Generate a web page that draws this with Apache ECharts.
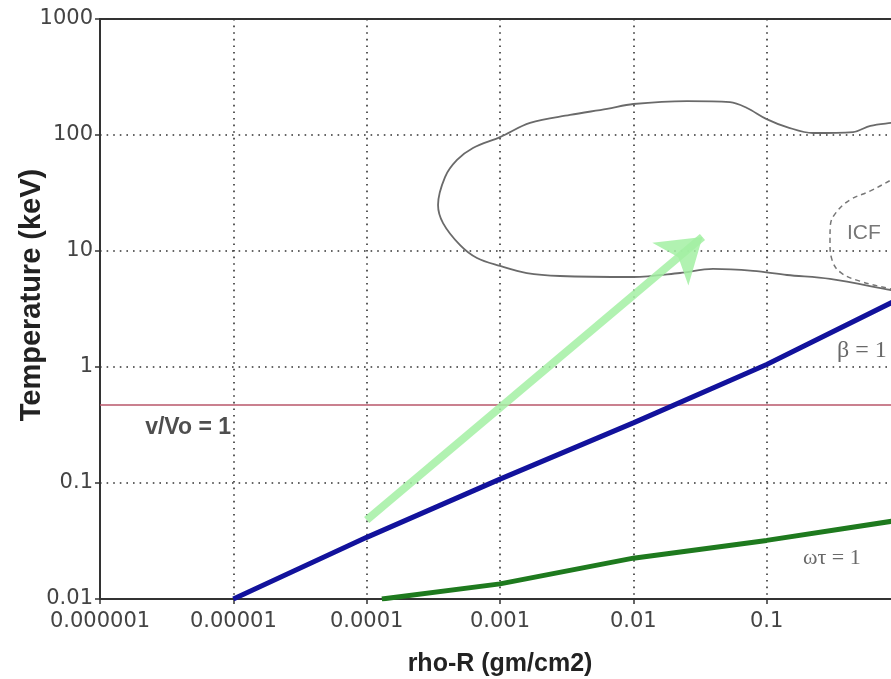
<!DOCTYPE html>
<html>
<head>
<meta charset="utf-8">
<script src="https://cdn.jsdelivr.net/npm/echarts@6/dist/echarts.min.js"></script>
<style>html,body{margin:0;padding:0;background:#fff}#c{width:891px;height:679px}</style>
</head>
<body>
<div id="c"></div>
<script>
// ---- data ----
const xTickLabels = ['0.000001', '0.00001', '0.0001', '0.001', '0.01', '0.1', ''];
const yTickLabels = ['0.01', '0.1', '1', '10', '100', '1000'];

const betaX = [1e-5, 1e-4, 1e-3, 0.01, 0.1, 1];
const betaY = [0.01, 0.034, 0.108, 0.33, 1.05, 3.9];

const omegaTauX = [1.3e-4, 1e-3, 0.01, 0.1, 1];
const omegaTauY = [0.01, 0.0135, 0.0225, 0.032, 0.048];

const vVoX = [1e-6, 1];
const vVoY = [0.47, 0.47];

const arrowX = [1e-4, 0.033];
const arrowY = [0.048, 13.2];

const loopX = [1.2, 0.856, 0.6, 0.444, 0.2226, 0.142, 0.1, 0.0712, 0.0531, 0.0253, 0.01, 6.35e-3, 3.35e-3, 1.68e-3, 1e-3, 6.27e-4, 4.76e-4, 3.87e-4, 3.43e-4, 3.74e-4, 5.0e-4, 6.72e-4, 1e-3, 1.59e-3, 2.82e-3, 0.01, 0.0224, 0.0396, 0.079, 0.142, 0.2985, 0.856, 1.2];
const loopY = [132, 127, 120, 106, 104, 117, 137, 171, 192, 196, 185, 168, 149, 127, 96, 77.3, 60.9, 43.4, 24.9, 17.4, 11.3, 8.7, 7.43, 6.46, 6.09, 5.97, 6.46, 7.0, 6.73, 6.21, 5.74, 4.61, 4.3];

const icfX = [1.1, 0.856, 0.6, 0.42, 0.33, 0.3, 0.2985, 0.31, 0.36, 0.5, 0.856, 1.1];
const icfY = [48, 40.9, 33, 27.5, 21.3, 16.5, 12.0, 8.3, 6.5, 5.5, 4.7, 4.4];

const annotations = [
  {text: 'v/Vo = 1', x: 2.18e-6, y: 0.298, kind: 'vvo'},
  {text: 'β = 1', x: 0.337, y: 1.37, kind: 'serif'},
  {text: 'ωτ = 1', x: 0.187, y: 0.0226, kind: 'serifSmall'},
  {text: 'ICF', x: 0.40, y: 14.3, kind: 'icf'}
];

// ---- build ----
const zip = (xs, ys) => xs.map((x, i) => [x, ys[i]]);
const dec = (v, base) => Math.round(Math.log10(v)) - base;

const labelStyles = {
  vvo: {fontFamily: 'Liberation Sans, Arial', fontWeight: 'bold', fontSize: 23, color: '#222'},
  serif: {fontFamily: 'Liberation Serif, Times New Roman', fontSize: 24, color: '#444'},
  serifSmall: {fontFamily: 'Liberation Serif, Times New Roman', fontSize: 22, color: '#444'},
  icf: {fontFamily: 'Liberation Sans, Arial', fontSize: 21, color: '#555'}
};

const chart = echarts.init(document.getElementById('c'), null, {renderer: 'canvas'});
const dotted = {color: '#333', width: 1.6, type: [1.6, 5]};
chart.setOption({
  animation: false,
  backgroundColor: '#fff',
  grid: {left: 100, right: -9, top: 19, bottom: 80, containLabel: false, outerBoundsMode: 'none',
    show: true, borderColor: '#333', borderWidth: 2, backgroundColor: 'transparent'},
  xAxis: {
    type: 'log', logBase: 10, min: 1e-6, max: 1,
    name: 'rho-R (gm/cm2)', nameLocation: 'middle', nameGap: 53, nameMoveOverlap: false,
    nameTextStyle: {fontFamily: 'Liberation Sans, Arial', fontWeight: 'bold', fontSize: 25, color: '#222'},
    axisLine: {show: true, lineStyle: {color: '#333', width: 2}},
    axisTick: {show: true, length: 5, lineStyle: {color: '#333', width: 1.5}},
    minorTick: {show: false},
    axisLabel: {margin: 12, fontFamily: 'DejaVu Sans', fontSize: 21, color: '#444', hideOverlap: false,
      formatter: v => xTickLabels[dec(v, -6)] ?? ''},
    splitLine: {show: true, lineStyle: dotted}
  },
  yAxis: {
    type: 'log', logBase: 10, min: 0.01, max: 1000,
    name: 'Temperature (keV)', nameLocation: 'middle', nameGap: 54, nameMoveOverlap: false,
    nameTextStyle: {fontFamily: 'Liberation Sans, Arial', fontWeight: 'bold', fontSize: 29, color: '#222',
      padding: [0, 0, 0, 28]},
    axisLine: {show: true, lineStyle: {color: '#333', width: 2}},
    axisTick: {show: true, length: 5, lineStyle: {color: '#333', width: 1.5}},
    minorTick: {show: false},
    axisLabel: {margin: 7, fontFamily: 'DejaVu Sans', fontSize: 21, color: '#444', hideOverlap: false,
      formatter: v => yTickLabels[dec(v, -2)] ?? ''},
    splitLine: {show: true, lineStyle: dotted}
  },
  series: [
    {type: 'line', name: 'v/Vo', data: zip(vVoX, vVoY), showSymbol: false, symbol: 'none',
      lineStyle: {color: '#b8566a', width: 1.6}, z: 3},
    {type: 'line', name: 'loop', data: zip(loopX, loopY), showSymbol: false, symbol: 'none', smooth: 0.35,
      lineStyle: {color: '#6a6a6a', width: 1.8}, z: 3},
    {type: 'line', name: 'ICF', data: zip(icfX, icfY), showSymbol: false, symbol: 'none', smooth: 0.4,
      lineStyle: {color: '#777', width: 1.5, type: [5, 4]}, z: 3},
    {type: 'lines', coordinateSystem: 'cartesian2d', name: 'arrow',
      data: [{coords: zip(arrowX, arrowY)}],
      symbol: ['none', 'arrow'], symbolSize: [26, 42],
      lineStyle: {color: '#a3f0a3', width: 8, opacity: 0.85, curveness: 0}, z: 4},
    {type: 'line', name: 'beta', data: zip(betaX, betaY), showSymbol: false, symbol: 'none',
      lineStyle: {color: '#12129c', width: 5}, z: 5},
    {type: 'line', name: 'omegatau', data: zip(omegaTauX, omegaTauY), showSymbol: false, symbol: 'none',
      lineStyle: {color: '#1e7a1e', width: 5}, z: 5},
    {type: 'scatter', name: 'annotations', symbolSize: 0, z: 6,
      data: annotations.map(a => ({value: [a.x, a.y],
        label: Object.assign({show: true, position: 'inside', align: 'left', verticalAlign: 'middle', formatter: a.text}, labelStyles[a.kind])}))}
  ]
});
</script>
</body>
</html>
